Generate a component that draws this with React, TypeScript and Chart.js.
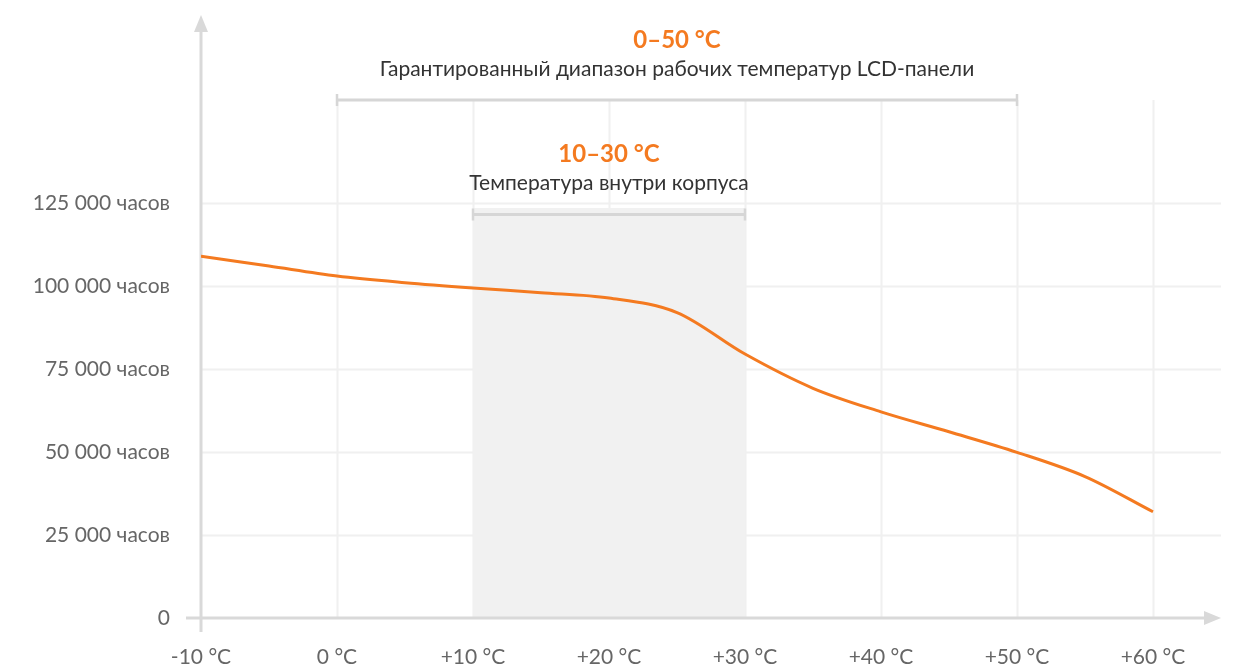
import React, { useEffect, useRef } from "react";
import { Chart, registerables } from "chart.js";

Chart.register(...registerables);

// Temperature (°C) and lifetime (hours)
const temperatures = [-10, -5, 0, 5, 10, 15, 20, 25, 30, 35, 40, 45, 50, 55, 60];
const lifetimeHours = [109000, 106000, 103000, 101000, 99400, 98000, 96400, 92000, 79500, 69200, 62100, 56100, 49900, 42600, 32000];

const xTickValues = [-10, 0, 10, 20, 30, 40, 50, 60];
const yTickValues = [0, 25000, 50000, 75000, 100000, 125000];

// Annotated ranges: [from, to], heading, caption, bracket level (hours)
const wideRange = [0, 50];
const wideTitle = "0–50 °C";
const wideCaption = "Гарантированный диапазон рабочих температур LCD-панели";
const wideLevel = 156000;

const innerRange = [10, 30];
const innerTitle = "10–30 °C";
const innerCaption = "Температура внутри корпуса";
const innerLevel = 121500;
const innerShadeTop = 123500;

const ORANGE = "#F47A20";
const AXIS = "#d9d9d9";
const GRID = "#f0f0f0";
const FONT = "Lato, 'Open Sans', sans-serif";

const fmtHours = (v: number) =>
  v === 0 ? "0" : v.toLocaleString("en-US").replace(/,/g, " ") + " часов";
const fmtTemp = (v: number) => (v > 0 ? "+" + v : String(v)) + " °C";

const decorPlugin = {
  id: "decor",
  beforeDatasetsDraw(chart: any) {
    const { ctx, chartArea, scales } = chart;
    const xs = scales.x;
    const ys = scales.y;
    const x0 = xs.getPixelForValue(-10);
    const y0 = ys.getPixelForValue(0);
    const gridTop = ys.getPixelForValue(wideLevel);

    ctx.save();
    // horizontal grid
    ctx.strokeStyle = GRID;
    ctx.lineWidth = 2;
    yTickValues.forEach((v) => {
      if (v === 0) return;
      const y = Math.round(ys.getPixelForValue(v)) + 0.5;
      ctx.beginPath();
      ctx.moveTo(x0, y);
      ctx.lineTo(chartArea.right, y);
      ctx.stroke();
    });
    // vertical grid
    xTickValues.forEach((v) => {
      if (v === -10) return;
      const x = Math.round(xs.getPixelForValue(v)) + 0.5;
      ctx.beginPath();
      ctx.moveTo(x, gridTop);
      ctx.lineTo(x, y0);
      ctx.stroke();
    });

    // shaded inner range
    const sx1 = xs.getPixelForValue(innerRange[0]);
    const sx2 = xs.getPixelForValue(innerRange[1]);
    const sTop = ys.getPixelForValue(innerShadeTop);
    ctx.fillStyle = "#f1f1f1";
    ctx.fillRect(sx1, sTop, sx2 - sx1, y0 - sTop);

    // brackets + labels
    const bracket = (range: number[], level: number, title: string, caption: string) => {
      const a = xs.getPixelForValue(range[0]);
      const b = xs.getPixelForValue(range[1]);
      const y = ys.getPixelForValue(level);
      ctx.strokeStyle = "#d6d6d6";
      ctx.lineWidth = 3;
      ctx.beginPath();
      ctx.moveTo(a, y);
      ctx.lineTo(b, y);
      ctx.stroke();
      ctx.lineWidth = 2.5;
      ctx.beginPath();
      ctx.moveTo(a, y - 6);
      ctx.lineTo(a, y + 6);
      ctx.moveTo(b, y - 6);
      ctx.lineTo(b, y + 6);
      ctx.stroke();
      const cx = (a + b) / 2;
      ctx.textAlign = "center";
      ctx.textBaseline = "middle";
      ctx.fillStyle = ORANGE;
      ctx.font = `bold 24px ${FONT}`;
      ctx.fillText(title, cx, y - 60);
      ctx.fillStyle = "#333333";
      ctx.font = `21px ${FONT}`;
      ctx.fillText(caption, cx, y - 31);
    };
    bracket(wideRange, wideLevel, wideTitle, wideCaption);
    bracket(innerRange, innerLevel, innerTitle, innerCaption);

    // axes
    ctx.strokeStyle = AXIS;
    ctx.fillStyle = AXIS;
    ctx.lineWidth = 3;
    const right = chartArea.right;
    ctx.beginPath();
    ctx.moveTo(x0 - 15, y0);
    ctx.lineTo(right - 16, y0);
    ctx.stroke();
    ctx.beginPath();
    ctx.moveTo(right, y0);
    ctx.lineTo(right - 17, y0 - 7);
    ctx.lineTo(right - 17, y0 + 7);
    ctx.closePath();
    ctx.fill();

    ctx.beginPath();
    ctx.moveTo(x0, y0 + 14);
    ctx.lineTo(x0, 31);
    ctx.stroke();
    ctx.beginPath();
    ctx.moveTo(x0, 15);
    ctx.lineTo(x0 - 7, 32);
    ctx.lineTo(x0 + 7, 32);
    ctx.closePath();
    ctx.fill();
    ctx.restore();
  },
};

export default function App() {
  const ref = useRef<HTMLCanvasElement | null>(null);
  useEffect(() => {
    if (!ref.current) return;
    const chart = new Chart(ref.current, {
      type: "line",
      data: {
        datasets: [
          {
            data: temperatures.map((t, i) => ({ x: t, y: lifetimeHours[i] })),
            borderColor: ORANGE,
            borderWidth: 3,
            pointRadius: 0,
            cubicInterpolationMode: "monotone",
            fill: false,
          },
        ],
      },
      options: {
        animation: false,
        responsive: false,
        devicePixelRatio: 1,
        layout: { padding: { top: 203, right: 22, left: 0, bottom: 0 } },
        plugins: { legend: { display: false }, tooltip: { enabled: false } },
        scales: {
          x: {
            type: "linear",
            min: -10,
            max: 65,
            grid: { display: false, drawTicks: false },
            border: { display: false },
            afterBuildTicks: (s: any) => {
              s.ticks = xTickValues.map((v) => ({ value: v }));
            },
            afterFit: (s: any) => {
              s.height = 51;
            },
            ticks: {
              padding: 27,
              color: "#666666",
              font: { family: FONT, size: 21 },
              maxRotation: 0,
              autoSkip: false,
              callback: (v: any) => fmtTemp(Number(v)),
            },
          },
          y: {
            min: 0,
            max: 125000,
            grid: { display: false, drawTicks: false },
            border: { display: false },
            afterBuildTicks: (s: any) => {
              s.ticks = yTickValues.map((v) => ({ value: v }));
            },
            afterFit: (s: any) => {
              s.width = 201;
            },
            ticks: {
              padding: 31,
              color: "#666666",
              font: { family: FONT, size: 21 },
              callback: (v: any) => fmtHours(Number(v)),
            },
          },
        },
      },
      plugins: [decorPlugin],
    } as any);
    return () => chart.destroy();
  }, []);

  return (
    <div style={{ position: "absolute", left: 0, top: 0, width: 1243, height: 669, background: "#fff" }}>
      <canvas ref={ref} width={1243} height={669} />
    </div>
  );
}
